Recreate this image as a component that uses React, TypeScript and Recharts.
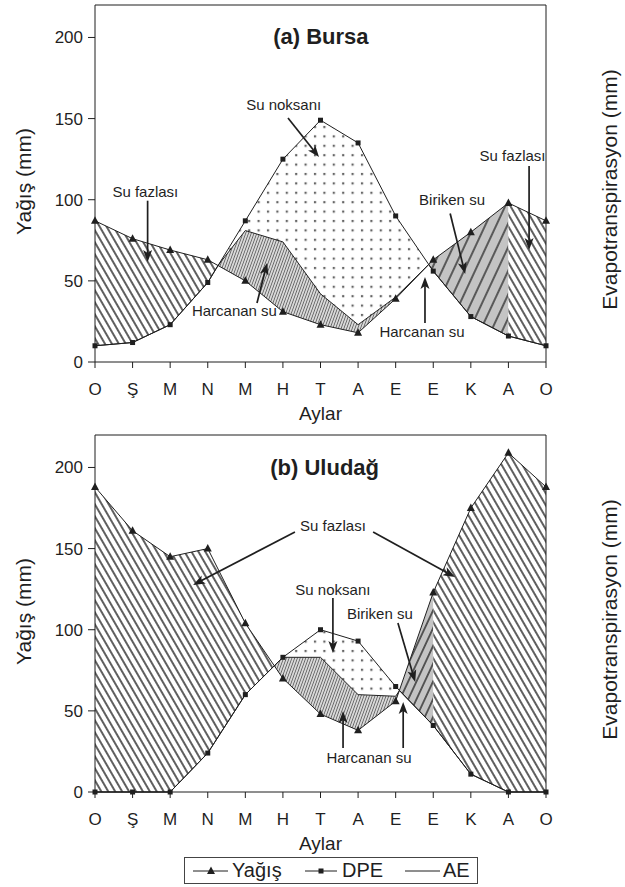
import React from 'react';
import { ComposedChart, Area, Line, XAxis, YAxis, ReferenceLine, ReferenceDot } from 'recharts';

const FONT = '"Liberation Sans", Arial, Helvetica, sans-serif';
const INK = '#1f1f1f';

// ---------- shared axes ----------
const months = ['O', 'Ş', 'M', 'N', 'M', 'H', 'T', 'A', 'E', 'E', 'K', 'A', 'O'];
const monthTicks = [0, 1, 2, 3, 4, 5, 6, 7, 8, 9, 10, 11, 12];
const yTicks = [0, 50, 100, 150, 200];
const yDomain: [number, number] = [0, 220];

// ---------- (a) Bursa ----------
const bursaYagis = [87, 76, 69, 63, 50, 31, 23, 18, 39, 63, 80, 98, 87];
const bursaDPE = [10, 12, 23, 49, 87, 125, 149, 135, 90, 56, 28, 16, 10];
const bursaAE = [10, 12, 23, 49, 81, 74, 42, 23, 40, 56, 28, 16, 10];
// points where Yağış and DPE lines cross
const bursaCrossX = [3.27, 8.88];
const bursaCrossY = [59.4, 60.1];

// ---------- (b) Uludağ ----------
const uluYagis = [188, 161, 145, 150, 104, 70, 48, 38, 56, 123, 175, 209, 188];
const uluDPE = [0, 0, 0, 24, 60, 83, 100, 93, 65, 41, 11, 0, 0];
const uluAE = [0, 0, 0, 24, 60, 83, 83, 60, 59, 41, 11, 0, 0];
const uluCrossX = [4.77, 8.1];
const uluCrossY = [77.8, 62.5];

type Bound = 'yagis' | 'dpe' | 'ae';
type Region = { key: string; from: number; to: number; lower: Bound; upper: Bound; pattern: string };

const bursaRegions: Region[] = [
  { key: 'fazla1', from: 0, to: bursaCrossX[0], lower: 'dpe', upper: 'yagis', pattern: 'fazla' },
  { key: 'harcanan', from: bursaCrossX[0], to: bursaCrossX[1], lower: 'yagis', upper: 'ae', pattern: 'harcanan' },
  { key: 'noksan', from: bursaCrossX[0], to: bursaCrossX[1], lower: 'ae', upper: 'dpe', pattern: 'noksan' },
  { key: 'biriken', from: bursaCrossX[1], to: 11, lower: 'dpe', upper: 'yagis', pattern: 'biriken' },
  { key: 'fazla2', from: 11, to: 12, lower: 'dpe', upper: 'yagis', pattern: 'fazla' },
];

const uluRegions: Region[] = [
  { key: 'fazla1', from: 0, to: uluCrossX[0], lower: 'dpe', upper: 'yagis', pattern: 'fazla' },
  { key: 'harcanan', from: uluCrossX[0], to: uluCrossX[1], lower: 'yagis', upper: 'ae', pattern: 'harcanan' },
  { key: 'noksan', from: uluCrossX[0], to: uluCrossX[1], lower: 'ae', upper: 'dpe', pattern: 'noksan' },
  { key: 'biriken', from: uluCrossX[1], to: 9, lower: 'dpe', upper: 'yagis', pattern: 'biriken' },
  { key: 'fazla2', from: 9, to: 12, lower: 'dpe', upper: 'yagis', pattern: 'fazla' },
];

// ---------- annotations (data coordinates) ----------
type Note = { text: string; x: number; y: number; bold?: boolean; size?: number };
type Arrow = { x1: number; y1: number; x2: number; y2: number };

const bursaNotes: Note[] = [
  { text: '(a) Bursa', x: 6.01, y: 196, bold: true, size: 22 },
  { text: 'Su noksanı', x: 5.02, y: 155.3 },
  { text: 'Su fazlası', x: 1.34, y: 101.7 },
  { text: 'Harcanan su', x: 3.71, y: 28.3 },
  { text: 'Biriken su', x: 9.5, y: 96.8 },
  { text: 'Su fazlası', x: 11.11, y: 123.9 },
  { text: 'Harcanan su', x: 8.7, y: 15.4 },
];
const bursaArrows: Arrow[] = [
  { x1: 5.135, y1: 150.4, x2: 5.96, y2: 126.3 },
  { x1: 1.4, y1: 99.4, x2: 1.4, y2: 61.6 },
  { x1: 4.31, y1: 36.4, x2: 4.58, y2: 61.0 },
  { x1: 9.45, y1: 91.5, x2: 9.85, y2: 54.2 },
  { x1: 11.55, y1: 120.8, x2: 11.55, y2: 69.0 },
  { x1: 8.78, y1: 24.0, x2: 8.78, y2: 52.4 },
];

const uluNotes: Note[] = [
  { text: '(b) Uludağ', x: 6.11, y: 195.4, bold: true, size: 22 },
  { text: 'Su fazlası', x: 6.33, y: 160.8 },
  { text: 'Su noksanı', x: 6.33, y: 121.4 },
  { text: 'Biriken su', x: 7.58, y: 106.6 },
  { text: 'Harcanan su', x: 7.29, y: 17.9 },
];
const uluArrows: Arrow[] = [
  { x1: 5.32, y1: 160.2, x2: 2.61, y2: 127.6 },
  { x1: 7.4, y1: 160.2, x2: 9.58, y2: 132.5 },
  { x1: 6.33, y1: 119.6, x2: 6.33, y2: 85.7 },
  { x1: 8.06, y1: 104.1, x2: 8.52, y2: 67.8 },
  { x1: 6.6, y1: 27.1, x2: 6.6, y2: 49.9 },
  { x1: 8.2, y1: 27.1, x2: 8.2, y2: 55.5 },
];

// ---------- helpers ----------
function buildRows(yagis: number[], dpe: number[], ae: number[], crossX: number[], crossY: number[], regions: Region[]) {
  const rows: any[] = [];
  monthTicks.forEach((i) => rows.push({ x: i, yagis: yagis[i], dpe: dpe[i], ae: ae[i], cross: null }));
  crossX.forEach((cx, k) => rows.push({ x: cx, yagis: null, dpe: null, ae: crossY[k], cross: crossY[k] }));
  rows.sort((a, b) => a.x - b.x);
  rows.forEach((r) => {
    regions.forEach((reg) => {
      if (r.x >= reg.from - 1e-9 && r.x <= reg.to + 1e-9) {
        r[reg.key] = r.cross != null ? [r.cross, r.cross] : [r[reg.lower], r[reg.upper]];
      } else {
        r[reg.key] = null;
      }
    });
  });
  return rows;
}

const TriangleDot = (p: any) => {
  const { cx, cy, index } = p;
  if (cx == null || cy == null || isNaN(cx) || isNaN(cy) || p.value == null) return <g key={`t${index}`} />;
  return <polygon key={`t${index}`} points={`${cx},${cy - 4.5} ${cx - 4},${cy + 3} ${cx + 4},${cy + 3}`} fill={INK} />;
};

const SquareDot = (p: any) => {
  const { cx, cy, index } = p;
  if (cx == null || cy == null || isNaN(cx) || isNaN(cy) || p.value == null) return <g key={`s${index}`} />;
  return <rect key={`s${index}`} x={cx - 2.5} y={cy - 2.5} width={5} height={5} fill={INK} />;
};

const ArrowShape = (p: any) => {
  const { x1, y1, x2, y2 } = p;
  if ([x1, y1, x2, y2].some((v) => v == null || isNaN(v))) return <g />;
  const dx = x2 - x1;
  const dy = y2 - y1;
  const len = Math.hypot(dx, dy) || 1;
  const ux = dx / len;
  const uy = dy / len;
  const hl = 12;
  const hw = 4.5;
  const bx = x2 - ux * hl;
  const by = y2 - uy * hl;
  const nx = x2 - ux * (hl - 3);
  const ny = y2 - uy * (hl - 3);
  const pts = `${x2},${y2} ${bx - uy * hw},${by + ux * hw} ${nx},${ny} ${bx + uy * hw},${by - ux * hw}`;
  return (
    <g>
      <line x1={x1} y1={y1} x2={nx} y2={ny} stroke={INK} strokeWidth={1.7} />
      <polygon points={pts} fill={INK} />
    </g>
  );
};

function Patterns({ id, birikenGap }: { id: string; birikenGap: number }) {
  return (
    <defs>
      <pattern id={`${id}-fazla`} patternUnits="userSpaceOnUse" width={6} height={6} patternTransform="rotate(-30)">
        <rect width={6} height={6} fill="#ffffff" />
        <line x1={3} y1={-1} x2={3} y2={7} stroke="#111111" strokeWidth={1.35} />
      </pattern>
      <pattern id={`${id}-biriken`} patternUnits="userSpaceOnUse" width={birikenGap} height={birikenGap} patternTransform="rotate(25)">
        <rect width={birikenGap} height={birikenGap} fill="#c4c4c4" />
        <line x1={birikenGap / 2} y1={-1} x2={birikenGap / 2} y2={birikenGap + 1} stroke="#111111" strokeWidth={1.2} />
      </pattern>
      <pattern id={`${id}-harcanan`} patternUnits="userSpaceOnUse" width={2.6} height={2.6} patternTransform="rotate(20)">
        <rect width={2.6} height={2.6} fill="#dadada" />
        <line x1={1.3} y1={-1} x2={1.3} y2={3.6} stroke="#5a5a5a" strokeWidth={0.8} />
      </pattern>
      <pattern id={`${id}-noksan`} patternUnits="userSpaceOnUse" width={9.4} height={9.4}>
        <rect width={9.4} height={9.4} fill="#ffffff" />
        <rect x={3.7} y={3.7} width={2.2} height={2.2} fill="#666666" />
      </pattern>
    </defs>
  );
}

type ChartProps = {
  id: string;
  yagis: number[];
  dpe: number[];
  ae: number[];
  crossX: number[];
  crossY: number[];
  regions: Region[];
  notes: Note[];
  arrows: Arrow[];
  birikenGap: number;
};

const tickStyle = { fontSize: 17, fill: INK, fontFamily: FONT };

function WaterChart({ id, yagis, dpe, ae, crossX, crossY, regions, notes, arrows, birikenGap }: ChartProps) {
  const rows = buildRows(yagis, dpe, ae, crossX, crossY, regions);
  return (
    <ComposedChart width={625} height={428} data={rows} margin={{ top: 5, right: 0, bottom: 8, left: 0 }} style={{ fontFamily: FONT }}>
      <Patterns id={id} birikenGap={birikenGap} />
      <XAxis
        dataKey="x"
        type="number"
        domain={[0, 12]}
        ticks={monthTicks}
        interval={0}
        tickFormatter={(v: number) => months[Math.round(v)]}
        height={58}
        tickSize={6}
        tickMargin={15}
        stroke={INK}
        tick={tickStyle}
        label={{ value: 'Aylar', position: 'insideBottom', offset: 0, style: { fontSize: 19, fill: INK, fontFamily: FONT } }}
      />
      <YAxis
        yAxisId="l"
        domain={yDomain}
        ticks={yTicks}
        width={95}
        tickSize={7}
        tickMargin={5}
        stroke={INK}
        tick={tickStyle}
        label={{ value: 'Yağış (mm)', angle: -90, position: 'center', dx: -24, dy: -2, style: { fontSize: 21, fill: INK, fontFamily: FONT } }}
      />
      <YAxis
        yAxisId="r"
        orientation="right"
        domain={yDomain}
        ticks={yTicks}
        width={79}
        tickSize={7}
        tickMargin={7}
        stroke={INK}
        tick={tickStyle}
        label={{ value: 'Evapotranspirasyon (mm)', angle: -90, position: 'center', dx: 24, dy: 6, style: { fontSize: 21, fill: INK, fontFamily: FONT } }}
      />
      {regions.map((reg) => (
        <Area
          key={reg.key}
          yAxisId="l"
          dataKey={reg.key}
          type="linear"
          stroke="none"
          fill={`url(#${id}-${reg.pattern})`}
          fillOpacity={1}
          dot={false}
          activeDot={false}
          isAnimationActive={false}
        />
      ))}
      <Line yAxisId="l" dataKey="ae" type="linear" stroke={INK} strokeWidth={1} dot={false} activeDot={false} isAnimationActive={false} connectNulls />
      <Line yAxisId="l" dataKey="dpe" type="linear" stroke={INK} strokeWidth={1} dot={SquareDot} activeDot={false} isAnimationActive={false} connectNulls />
      <Line yAxisId="l" dataKey="yagis" type="linear" stroke={INK} strokeWidth={1} dot={TriangleDot} activeDot={false} isAnimationActive={false} connectNulls />
      <ReferenceLine yAxisId="l" y={220} stroke={INK} strokeWidth={1} />
      {arrows.map((a, i) => (
        <ReferenceLine
          key={`arr${i}`}
          yAxisId="l"
          segment={[{ x: a.x1, y: a.y1 }, { x: a.x2, y: a.y2 }]}
          shape={ArrowShape}
        />
      ))}
      {notes.map((n, i) => (
        <ReferenceDot
          key={`note${i}`}
          yAxisId="l"
          x={n.x}
          y={n.y}
          r={0}
          shape={(p: any) => (
            <text
              x={p.cx}
              y={p.cy}
              textAnchor="middle"
              fontFamily={FONT}
              fontSize={n.size ?? 15}
              fontWeight={n.bold ? 'bold' : 'normal'}
              fill={INK}
            >
              {n.text}
            </text>
          )}
        />
      ))}
    </ComposedChart>
  );
}

function LegendBox() {
  return (
    <svg style={{ position: 'absolute', left: 184, top: 857 }} width={294} height={27}>
      <rect x={0.5} y={0.5} width={293} height={26} fill="#ffffff" stroke="#444444" strokeWidth={1} />
      <line x1={9} y1={14} x2={44} y2={14} stroke={INK} strokeWidth={1} />
      <polygon points={`27,9.5 23,17 31,17`} fill={INK} />
      <text x={48} y={20} fontFamily={FONT} fontSize={20} fill={INK}>Yağış</text>
      <line x1={121} y1={14} x2={153} y2={14} stroke={INK} strokeWidth={1} />
      <rect x={134.5} y={11.5} width={5} height={5} fill={INK} />
      <text x={158} y={20} fontFamily={FONT} fontSize={20} fill={INK}>DPE</text>
      <line x1={221} y1={14} x2={256} y2={14} stroke={INK} strokeWidth={1} />
      <text x={259} y={20} fontFamily={FONT} fontSize={20} fill={INK}>AE</text>
    </svg>
  );
}

export default function App() {
  return (
    <div style={{ position: 'absolute', left: 0, top: 0, width: 625, height: 887, background: '#ffffff', fontFamily: FONT }}>
      <div style={{ position: 'absolute', left: 0, top: 0 }}>
        <WaterChart
          id="bursa"
          yagis={bursaYagis}
          dpe={bursaDPE}
          ae={bursaAE}
          crossX={bursaCrossX}
          crossY={bursaCrossY}
          regions={bursaRegions}
          notes={bursaNotes}
          arrows={bursaArrows}
          birikenGap={10}
        />
      </div>
      <div style={{ position: 'absolute', left: 0, top: 430 }}>
        <WaterChart
          id="ulu"
          yagis={uluYagis}
          dpe={uluDPE}
          ae={uluAE}
          crossX={uluCrossX}
          crossY={uluCrossY}
          regions={uluRegions}
          notes={uluNotes}
          arrows={uluArrows}
          birikenGap={7.5}
        />
      </div>
      <LegendBox />
    </div>
  );
}
